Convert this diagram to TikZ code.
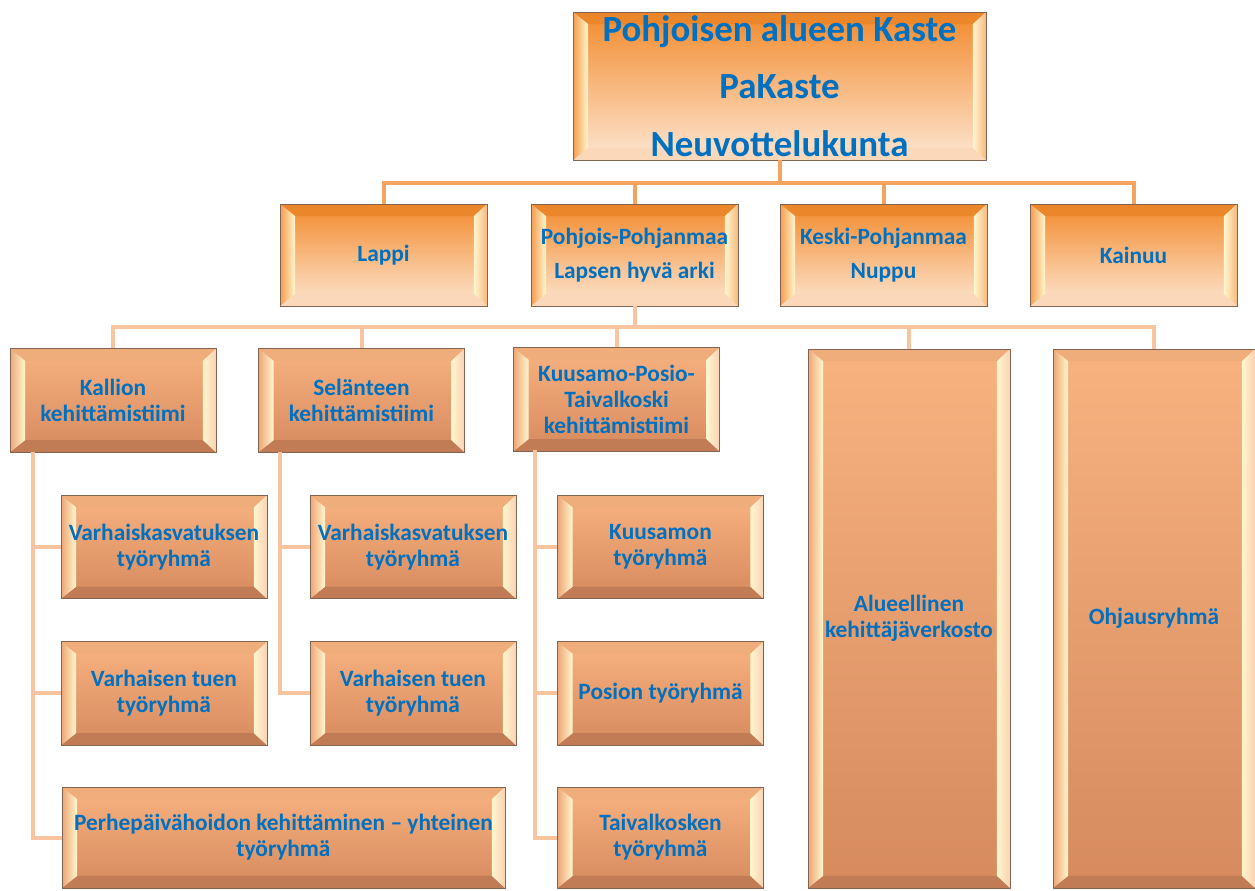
\documentclass[tikz,border=0pt]{standalone}
\usepackage{fontspec}
\setmainfont{Carlito}
\usetikzlibrary{calc}
\definecolor{txt}{RGB}{0,112,192}
\definecolor{oTop}{RGB}{242,138,44}
\definecolor{oBot}{RGB}{253,230,210}
\definecolor{pTop}{RGB}{248,178,128}
\definecolor{pBot}{RGB}{214,138,94}
\definecolor{cream}{RGB}{255,246,205}
\definecolor{lineA}{RGB}{245,164,96}
\definecolor{lineB}{RGB}{249,196,160}
\definecolor{edge}{RGB}{130,100,80}
\tikzset{
  bevel/.style n args={4}{path picture={
    \path (path picture bounding box.north west) coordinate (bNW)
          (path picture bounding box.north east) coordinate (bNE)
          (path picture bounding box.south west) coordinate (bSW)
          (path picture bounding box.south east) coordinate (bSE);
    \path ($(bNW)+(0.3cm,-0.24cm)$) coordinate (iNW)
          ($(bNE)+(-0.26cm,-0.24cm)$) coordinate (iNE)
          ($(bSW)+(0.3cm,0.24cm)$) coordinate (iSW)
          ($(bSE)+(-0.26cm,0.24cm)$) coordinate (iSE);
    \fill[#3] (bNW) -- (bNE) -- (iNE) -- (iNW) -- cycle;
    \fill[#4] (bSW) -- (bSE) -- (iSE) -- (iSW) -- cycle;
    \shade[left color=#1, right color=cream] (bNW) -- (iNW) -- (iSW) -- (bSW) -- cycle;
    \shade[left color=cream, right color=#2] (bNE) -- (iNE) -- (iSE) -- (bSE) -- cycle;
  }},
  box/.style={rectangle, draw=edge, line width=0.5pt, inner sep=1pt, align=center, text=txt},
  lvA/.style={box, top color=oTop, bottom color=oBot,
    bevel={oTop!80!oBot}{oTop!50!oBot}{oTop!97!black}{oBot!85!oTop},
    font=\fontsize{13.3}{19.5}\selectfont\bfseries,
    minimum width=4.14cm, minimum height=2.04cm},
  lvB/.style={box, top color=pTop, bottom color=pBot,
    bevel={pTop!70!pBot}{pTop!60!white}{pTop!97!black}{pBot!90!black},
    font=\fontsize{13.3}{14.8}\selectfont\bfseries,
    minimum width=4.12cm, minimum height=2.07cm},
  conA/.style={draw=lineA, line width=0.08cm},
  conB/.style={draw=lineB, line width=0.08cm},
}
\begin{document}
\begin{tikzpicture}[x=0.02cm, y=-0.02cm]
\useasboundingbox (0,0) rectangle (1255,891);

% top
\node[lvA, font=\fontsize{21}{32.6}\selectfont\bfseries, minimum width=8.26cm, minimum height=2.96cm]
  (top) at (779.5,86) {Pohjoisen alueen Kaste\\PaKaste\\Neuvottelukunta};

% row 2
\node[lvA] (lappi) at (383.5,255) {Lappi};
\node[lvA] (pp) at (634.5,255) {Pohjois-Pohjanmaa\\Lapsen hyvä arki};
\node[lvA] (kp) at (883.5,255) {Keski-Pohjanmaa\\Nuppu};
\node[lvA] (kai) at (1133.5,255) {Kainuu};

% row 3
\node[lvB] (kal) at (113,400.5) {Kallion\\kehittämistiimi};
\node[lvB] (sel) at (361.5,400.5) {Selänteen\\kehittämistiimi};
\node[lvB] (kuu) at (616.5,399.5) {Kuusamo-Posio-\\Taivalkoski\\kehittämistiimi};
\node[lvB, minimum width=4.04cm, minimum height=10.78cm] (alu) at (909,618.5) {Alueellinen\\kehittäjäverkosto};
\node[lvB, minimum width=4.04cm, minimum height=10.78cm] (ohj) at (1154,618.5) {Ohjausryhmä};

% row 4
\node[lvB] (k1) at (164,547) {Varhaiskasvatuksen\\työryhmä};
\node[lvB] (s1) at (413,547) {Varhaiskasvatuksen\\työryhmä};
\node[lvB] (u1) at (660.5,547) {Kuusamon\\työryhmä};
% row 5
\node[lvB] (k2) at (164,693.5) {Varhaisen tuen\\työryhmä};
\node[lvB] (s2) at (413,693.5) {Varhaisen tuen\\työryhmä};
\node[lvB] (u2) at (660.5,693.5) {Posion työryhmä};
% row 6
\node[lvB, minimum width=8.86cm, minimum height=2.02cm] (k3) at (283.5,837.5) {Perhepäivähoidon kehittäminen – yhteinen\\työryhmä};
\node[lvB, minimum height=2.02cm] (u3) at (660.5,837.5) {Taivalkosken\\työryhmä};

% connectors level 1
\coordinate (b1) at (779.5,183);
\draw[conA] (top.south) -- (b1);
\draw[conA] (lappi.north) |- (b1) -| (kai.north);
\draw[conA] (pp.north) -- (pp.north |- b1);
\draw[conA] (kp.north) -- (kp.north |- b1);

% connectors level 2
\coordinate (b2) at (634.5,327);
\draw[conB] (pp.south) -- (b2);
\draw[conB] (kal.north) |- (b2) -| (ohj.north);
\draw[conB] (sel.north) -- (sel.north |- b2);
\draw[conB] (kuu.north) -- (kuu.north |- b2);
\draw[conB] (alu.north) -- (alu.north |- b2);

% subtrees
\coordinate (kt) at (33,452);
\draw[conB] (kt) |- (k3.west);
\draw[conB] (kt) |- (k1.west);
\draw[conB] (kt) |- (k2.west);
\coordinate (st) at (280,452);
\draw[conB] (st) |- (s2.west);
\draw[conB] (st) |- (s1.west);
\coordinate (ut) at (535,450.5);
\draw[conB] (ut) |- (u3.west);
\draw[conB] (ut) |- (u1.west);
\draw[conB] (ut) |- (u2.west);
\end{tikzpicture}
\end{document}
